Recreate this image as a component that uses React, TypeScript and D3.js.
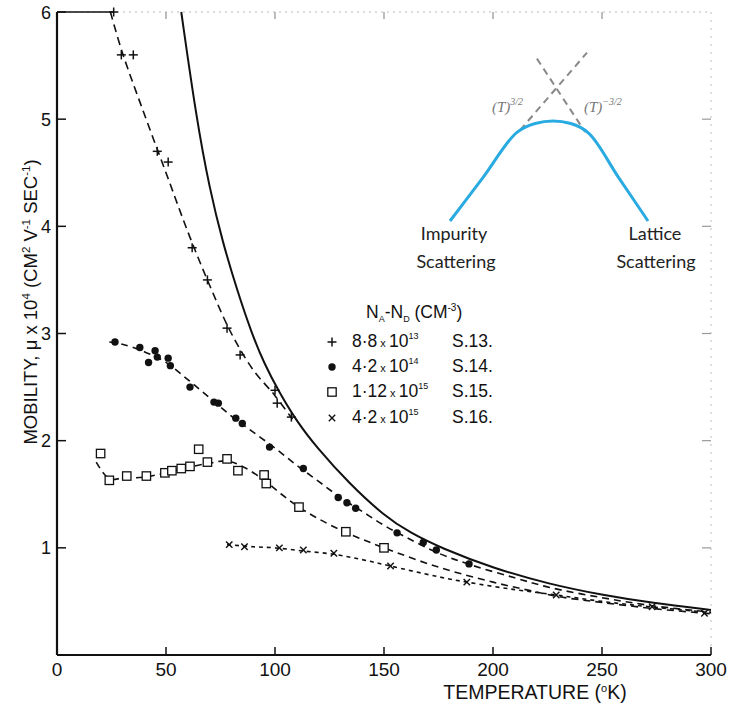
import React from 'react';
import * as d3 from 'd3';

const W = 749, H = 707;
const xTicks = [0, 50, 100, 150, 200, 250, 300];
const yTicks = [1, 2, 3, 4, 5, 6];

// Solid curve (T, mobility x1e-4)
const solidCurve: [number, number][] = [
  [57, 6.0], [64, 5.0], [70, 4.35], [76, 3.85], [83, 3.38], [89, 3.02], [95, 2.72], [102, 2.45], [110, 2.18], [119, 1.94],
  [134, 1.6], [150, 1.3], [162, 1.14], [176, 1.0], [200, 0.81], [226, 0.66], [250, 0.56], [273, 0.485], [300, 0.42],
];

// Sample S.13 (+)
const plusFit: [number, number][] = [
  [24.5, 6.0], [30, 5.62], [40, 5.05], [50, 4.5], [60, 3.95], [70, 3.45], [80, 3.0], [90, 2.66], [100, 2.42], [108, 2.2],
];
const plusPts: [number, number][] = [
  [26, 6.0], [29.5, 5.6], [35, 5.6], [46, 4.7], [51, 4.6], [62, 3.8], [69, 3.5], [78, 3.05], [84, 2.8], [100, 2.47], [101, 2.35], [107.5, 2.22],
];

// Sample S.14 (dot)
const dotFit: [number, number][] = [
  [24, 2.92], [30, 2.9], [40, 2.83], [50, 2.73], [60, 2.57], [70, 2.4], [80, 2.23], [90, 2.08], [100, 1.93], [110, 1.77],
  [120, 1.62], [130, 1.47], [140, 1.34], [150, 1.21], [160, 1.1], [175, 0.95], [190, 0.84], [210, 0.72], [226, 0.63],
  [250, 0.535], [273, 0.46], [300, 0.4],
];
const dotPts: [number, number][] = [
  [26.6, 2.92], [38, 2.87], [42, 2.73], [45, 2.84], [46, 2.78], [51, 2.77], [52, 2.7], [61, 2.5], [72, 2.36], [74, 2.35],
  [82, 2.21], [85, 2.16], [97.5, 1.94], [113, 1.74], [129, 1.47], [133, 1.42], [137, 1.37], [156, 1.14], [168, 1.05],
  [174, 0.98], [189, 0.85],
];

// Sample S.15 (square)
const squareFit: [number, number][] = [
  [18, 1.8], [22, 1.68], [25, 1.64], [30, 1.65], [40, 1.66], [50, 1.7], [60, 1.75], [70, 1.79], [78, 1.81], [86, 1.75],
  [95, 1.63], [103, 1.5], [111, 1.38], [120, 1.27], [133, 1.14], [150, 1.0], [175, 0.82], [200, 0.68], [215, 0.61],
  [230, 0.545], [250, 0.49], [275, 0.43], [300, 0.385],
];
const squarePts: [number, number][] = [
  [20, 1.88], [24, 1.63], [32, 1.67], [41, 1.67], [49.5, 1.7], [52.7, 1.72], [57, 1.74], [61, 1.76], [65, 1.92], [69, 1.8],
  [78, 1.83], [83, 1.72], [95, 1.68], [96, 1.6], [111, 1.38], [132.5, 1.15], [150, 1.0],
];

// Sample S.16 (x)
const crossFit: [number, number][] = [
  [78, 1.03], [90, 1.01], [100, 1.0], [113, 0.97], [127, 0.94], [140, 0.89], [153, 0.83], [175, 0.73], [188, 0.68],
  [210, 0.61], [229, 0.56], [250, 0.5], [272, 0.45], [300, 0.395],
];
const crossPts: [number, number][] = [
  [79, 1.03], [86, 1.01], [102, 1.0], [113, 0.98], [127, 0.95], [153, 0.83], [188, 0.68], [229, 0.56], [273, 0.45], [297, 0.39],
];

// Legend
const legendMantissa = ['8·8', '4·2', '1·12', '4·2'];
const legendExponent = ['13', '14', '15', '15'];
const legendSample = ['S.13.', 'S.14.', 'S.15.', 'S.16.'];
const legendMarker = ['plus', 'dot', 'square', 'cross'];

// Inset schematic (local units 0..100)
const insetCurve: [number, number][] = [
  [0, 0], [17, 44], [34, 88], [43, 96.5], [52, 99], [61, 96.5], [70, 87], [85, 43.5], [100, 0],
];
const insetRise: [number, number][] = [[35.4, 90], [69.2, 166.7]];
const insetFall: [number, number][] = [[43.9, 160.8], [68.2, 88.2]];

const FONT = '"Liberation Sans", Arial, sans-serif';
const INSET_FONT = 'Lato, "Open Sans", sans-serif';

function Marker({ kind, cx, cy }: { kind: string; cx: number; cy: number }) {
  if (kind === 'plus') {
    const s = 4.5;
    return (
      <g stroke="#111" strokeWidth={1.5}>
        <line x1={cx - s} x2={cx + s} y1={cy} y2={cy} />
        <line x1={cx} x2={cx} y1={cy - s} y2={cy + s} />
      </g>
    );
  }
  if (kind === 'dot') return <circle cx={cx} cy={cy} r={3.7} fill="#111" />;
  if (kind === 'square') return <rect x={cx - 4.2} y={cy - 4.2} width={8.4} height={8.4} fill="white" stroke="#111" strokeWidth={1.3} />;
  const s = 3.2;
  return (
    <g stroke="#111" strokeWidth={1.4}>
      <line x1={cx - s} x2={cx + s} y1={cy - s} y2={cy + s} />
      <line x1={cx - s} x2={cx + s} y1={cy + s} y2={cy - s} />
    </g>
  );
}

export default function App() {
  const x = d3.scaleLinear().domain([0, 300]).range([57, 711]);
  const y = d3.scaleLinear().domain([0, 6]).range([655, 12]);
  const smooth = d3.line<[number, number]>().x(d => x(d[0])).y(d => y(d[1])).curve(d3.curveBasis);
  const line = d3.line<[number, number]>().x(d => x(d[0])).y(d => y(d[1])).curve(d3.curveCatmullRom.alpha(0.5));

  const ix = d3.scaleLinear().domain([0, 100]).range([450, 648]);
  const iy = d3.scaleLinear().domain([0, 100]).range([221, 120]);
  const iline = d3.line<[number, number]>().x(d => ix(d[0])).y(d => iy(d[1])).curve(d3.curveMonotoneX);
  const ilineStraight = d3.line<[number, number]>().x(d => ix(d[0])).y(d => iy(d[1]));

  const series = [
    { fit: plusFit, pts: plusPts, kind: 'plus', dash: '8,5' },
    { fit: dotFit, pts: dotPts, kind: 'dot', dash: '7,5' },
    { fit: squareFit, pts: squarePts, kind: 'square', dash: '7,5' },
    { fit: crossFit, pts: crossPts, kind: 'cross', dash: '4,4' },
  ];

  const legendY = [347, 372, 397, 423];

  return (
    <svg width={W} height={H} style={{ position: 'absolute', left: 0, top: 0, background: 'white' }} fontFamily={FONT}>
      <rect width={W} height={H} fill="white" />
      {/* frame top & right (faint) */}
      <line x1={x(0)} x2={x(300)} y1={y(6)} y2={y(6)} stroke="#bbb" strokeWidth={1} strokeDasharray="2,4" />
      <line x1={x(0)} x2={x(26)} y1={y(6)} y2={y(6)} stroke="#111" strokeWidth={1.5} />
      <line x1={x(300)} x2={x(300)} y1={y(6)} y2={y(0)} stroke="#bbb" strokeWidth={1} strokeDasharray="2,6" />
      {xTicks.filter(t => t > 0 && t < 300).map(t => (
        <line key={'tt' + t} x1={x(t)} x2={x(t)} y1={y(6)} y2={y(6) + 7} stroke="#999" strokeWidth={1.3} />
      ))}
      {yTicks.filter(t => t < 6).map(t => (
        <line key={'rt' + t} x1={x(300)} x2={x(300) - 9} y1={y(t)} y2={y(t)} stroke="#999" strokeWidth={1.2} />
      ))}

      {/* axes */}
      <line x1={x(0)} x2={x(0)} y1={y(0)} y2={y(6)} stroke="#111" strokeWidth={2.2} />
      <line x1={x(0)} x2={x(300)} y1={y(0)} y2={y(0)} stroke="#111" strokeWidth={2.2} />
      {xTicks.filter(t => t > 0).map(t => (
        <line key={'xt' + t} x1={x(t)} x2={x(t)} y1={y(0)} y2={y(0) - 8} stroke="#111" strokeWidth={1.5} />
      ))}
      {yTicks.map(t => (
        <line key={'yt' + t} x1={x(0)} x2={x(0) + 9} y1={y(t)} y2={y(t)} stroke="#111" strokeWidth={1.5} />
      ))}
      {xTicks.map(t => (
        <text key={'xl' + t} x={x(t)} y={676} textAnchor="middle" fontSize={19} fill="#111">{t}</text>
      ))}
      {yTicks.map(t => (
        <text key={'yl' + t} x={51} y={y(t) + 6.5} textAnchor="end" fontSize={18} fill="#111">{t}</text>
      ))}

      {/* axis titles */}
      <text x={535} y={699} textAnchor="middle" fontSize={19.5} fill="#111">
        TEMPERATURE (<tspan dy={-7} fontSize={11}>o</tspan><tspan dy={7}>K)</tspan>
      </text>
      <text transform="translate(37,302) rotate(-90)" textAnchor="middle" fontSize={18.5} fill="#111">
        MOBILITY, μ x 10<tspan dy={-7} fontSize={11.5}>4</tspan>
        <tspan dy={7}> (CM</tspan><tspan dy={-7} fontSize={11.5}>2</tspan>
        <tspan dy={7}> V</tspan><tspan dy={-7} fontSize={11.5}>-1</tspan>
        <tspan dy={7}> SEC</tspan><tspan dy={-7} fontSize={11.5}>-1</tspan>
        <tspan dy={7}>)</tspan>
      </text>

      {/* data */}
      <path d={smooth(solidCurve) || ''} fill="none" stroke="#111" strokeWidth={2} />
      {series.map((s, i) => (
        <path key={'f' + i} d={line(s.fit) || ''} fill="none" stroke="#111" strokeWidth={1.6} strokeDasharray={s.dash} />
      ))}
      {series.map((s, i) => (
        <g key={'p' + i}>
          {s.pts.map((p, j) => <Marker key={j} kind={s.kind} cx={x(p[0])} cy={y(p[1])} />)}
        </g>
      ))}

      {/* legend */}
      <text x={366} y={318} fontSize={17.5} fill="#111">
        N<tspan dy={4} fontSize={9}>A</tspan><tspan dy={-4}>-N</tspan><tspan dy={4} fontSize={9}>D</tspan>
        <tspan dy={-4}> (CM</tspan><tspan dy={-7} fontSize={10}>-3</tspan><tspan dy={7}>)</tspan>
      </text>
      {legendMarker.map((k, i) => (
        <g key={'lg' + i}>
          <Marker kind={k} cx={332} cy={legendY[i] - 5} />
          <text x={352} y={legendY[i]} fontSize={17.5} fill="#111">
            {legendMantissa[i]}<tspan fontSize={11}> x </tspan>10<tspan dy={-8} fontSize={9}>{legendExponent[i]}</tspan>
          </text>
          <text x={452} y={legendY[i]} fontSize={17.5} fill="#111">{legendSample[i]}</text>
        </g>
      ))}

      {/* inset schematic */}
      <path d={ilineStraight(insetRise) || ''} fill="none" stroke="#888" strokeWidth={2} strokeDasharray="7,5" />
      <path d={ilineStraight(insetFall) || ''} fill="none" stroke="#888" strokeWidth={2} strokeDasharray="7,5" />
      <path d={iline(insetCurve) || ''} fill="none" stroke="#29abe2" strokeWidth={3} />
      <text x={492} y={112} fontSize={15} fill="#777" fontFamily='"Liberation Serif", serif' fontStyle="italic">
        (T)<tspan dy={-7} fontSize={10}>3/2</tspan>
      </text>
      <text x={584} y={112} fontSize={15} fill="#777" fontFamily='"Liberation Serif", serif' fontStyle="italic">
        (T)<tspan dy={-7} fontSize={10}>−3/2</tspan>
      </text>
      <text x={454} y={240} textAnchor="middle" fontSize={18} fill="#222" fontFamily={INSET_FONT}>Impurity</text>
      <text x={456} y={268} textAnchor="middle" fontSize={18} fill="#222" fontFamily={INSET_FONT}>Scattering</text>
      <text x={655} y={240} textAnchor="middle" fontSize={18} fill="#222" fontFamily={INSET_FONT}>Lattice</text>
      <text x={656} y={268} textAnchor="middle" fontSize={18} fill="#222" fontFamily={INSET_FONT}>Scattering</text>
    </svg>
  );
}
